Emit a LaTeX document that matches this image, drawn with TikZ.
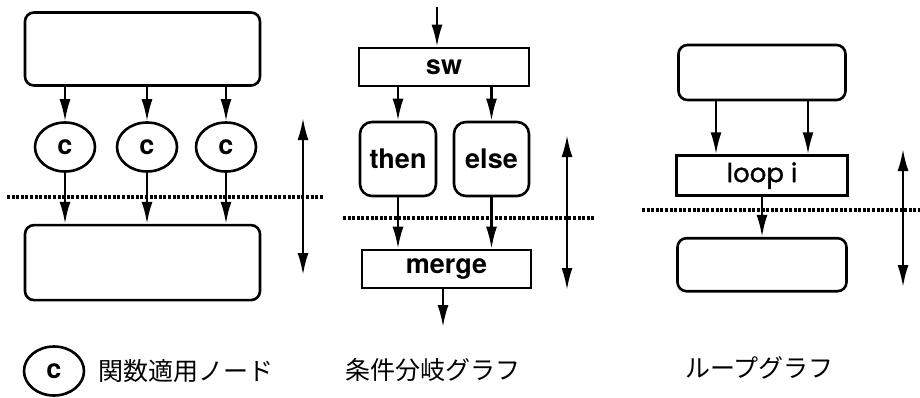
\documentclass[tikz,border=0pt]{standalone}
\usepackage{fontspec}
\newfontfamily\labelfont{TeX Gyre Heros}
\newfontfamily\loopfont{Poppins}[FakeBold=1.2]
\newfontfamily\jpfont{Noto Sans CJK JP}
\usetikzlibrary{shapes.geometric,arrows.meta,positioning}

\begin{document}
\begin{tikzpicture}[
  x=1pt, y=-1pt,
  block/.style={rectangle, draw, line width=2.6pt, rounded corners=9pt, minimum width=235pt, minimum height=73pt},
  bar/.style={rectangle, draw, line width=2.6pt, minimum width=170pt, minimum height=38pt, inner sep=0pt, font=\labelfont\bfseries\fontsize{27}{30}\selectfont},
  branch/.style={rectangle, draw, line width=2.6pt, rounded corners=12pt, minimum width=76pt, minimum height=74pt, inner sep=0pt, font=\labelfont\bfseries\fontsize{27}{30}\selectfont},
  fn/.style={ellipse, draw, line width=2.6pt, minimum width=60pt, minimum height=49pt, inner sep=0pt, font=\labelfont\bfseries\fontsize{27}{30}\selectfont},
  arrow/.style={-{Latex[length=22pt,width=11pt]}, line width=2.3pt},
  span/.style={{Latex[length=22pt,width=11pt]}-{Latex[length=22pt,width=11pt]}, line width=2.3pt},
  cut/.style={line width=4.5pt, dash pattern=on 3pt off 1.6pt},
  caption/.style={anchor=west, inner sep=0pt, font=\jpfont\fontsize{25}{30}\selectfont}
]
\useasboundingbox (0,0) rectangle (920,397);

% function application
\node[block] (topL) at (142.5,49) {};
\node[fn] (c1) at (65,147) {c};
\node[fn] (c2) at (147,147) {c};
\node[fn] (c3) at (226,147) {c};
\node[block, minimum height=75pt, below=137pt of topL] (botL) {};

\draw[cut] (7,197) -- (323,197);
\foreach \c in {c1,c2,c3} {
  \draw[arrow] (\c.north |- topL.south) -- (\c.north);
  \draw[arrow] (\c.south) -- (\c.south |- botL.north);
}
\draw[span] (303,118) -- (303,275);

% conditional branch
\node[bar] (sw) at (444,67) {sw};
\node[branch] (then) at (398,159) {then};
\node[branch, minimum width=75pt] (else) at (491.5,159) {else};
\node[bar, minimum width=169pt] (merge) at (446.5,269) {merge};
\coordinate (swin) at (437,7);
\coordinate (mergeout) at (443,327);

\draw[cut] (343,218) -- (595,218);
\draw[arrow] (swin) -- (swin |- sw.north);
\draw[arrow] (then.north |- sw.south) -- (then.north);
\draw[arrow] (else.north |- sw.south) -- (else.north);
\draw[arrow] (then.south) -- (then.south |- merge.north);
\draw[arrow] (else.south) -- (else.south |- merge.north);
\draw[arrow] (mergeout |- merge.south) -- (mergeout);
\draw[span] (567,135) -- (567,290);

% loop
\node[block, minimum width=167pt, minimum height=55pt] (topR) at (762,72.5) {};
\node[bar, minimum width=171pt, minimum height=40pt, font=\loopfont\fontsize{26}{30}\selectfont, below=53pt of topR] (loop) {loop i};
\node[block, minimum width=169pt, minimum height=53pt, below=40pt of loop] (botR) {};
\path (topR.south) ++(-46,0) coordinate (inA) ++(92,0) coordinate (inB);

\draw[cut] (642,210) -- (920,210);
\draw[arrow] (inA) -- (inA |- loop.north);
\draw[arrow] (inB) -- (inB |- loop.north);
\draw[arrow] (loop.south) -- (botR.north);
\draw[span] (903,149) -- (903,287);

% captions
\node[fn] (key) at (54,371) {c};
\node[caption] (keytext) at (98,371) {関数適用ノード};
\node[caption] (condtext) at (345,370) {条件分岐グラフ};
\node[caption] (looptext) at (685,368) {ループグラフ};
\end{tikzpicture}
\end{document}
